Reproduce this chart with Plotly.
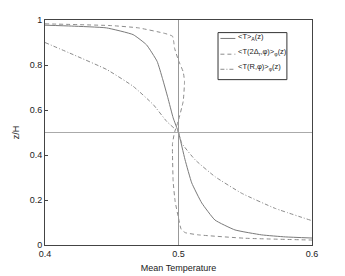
import plotly.graph_objects as go

# <T>_A(z)
ta_x = [0.400, 0.420, 0.446, 0.466, 0.476, 0.484, 0.488, 0.492, 0.496, 0.500,
        0.5049, 0.5099, 0.5174, 0.5273, 0.5423, 0.5623, 0.580, 0.600]
ta_z = [0.977, 0.973, 0.965, 0.935, 0.890, 0.816, 0.740, 0.655, 0.565, 0.500,
        0.379, 0.276, 0.187, 0.111, 0.067, 0.045, 0.036, 0.031]

# <T(2Δr,φ)>_φ(z)
td_x = [0.400, 0.450, 0.470, 0.490, 0.4955, 0.4965, 0.497, 0.500, 0.5035, 0.5045,
        0.5035, 0.4997, 0.497, 0.4955, 0.4955, 0.496, 0.4975, 0.500, 0.502,
        0.505, 0.515, 0.550, 0.600]
td_z = [0.983, 0.975, 0.965, 0.940, 0.928, 0.900, 0.876, 0.820, 0.770, 0.727,
        0.638, 0.549, 0.500, 0.450, 0.400, 0.282, 0.193, 0.120, 0.070,
        0.055, 0.045, 0.030, 0.022]

# <T(R,φ)>_φ(z)
tr_x = [0.400, 0.4212, 0.4462, 0.4661, 0.4811, 0.4912, 0.500,
        0.5024, 0.5124, 0.5273, 0.5473, 0.5723, 0.600]
tr_z = [0.900, 0.846, 0.780, 0.705, 0.624, 0.549, 0.500,
        0.453, 0.379, 0.304, 0.230, 0.163, 0.108]

x_ticks = [0.4, 0.5, 0.6]
y_ticks = [0, 0.2, 0.4, 0.6, 0.8, 1]

names = ["&lt;T&gt;<sub>A</sub>(z)",
         "&lt;T(2Δ<sub>r</sub>,φ)&gt;<sub>φ</sub>(z)",
         "&lt;T(R,φ)&gt;<sub>φ</sub>(z)"]
styles = [dict(color="#7a7a7a", width=1),
          dict(color="#8c8c8c", width=1, dash="4px,3px"),
          dict(color="#8c8c8c", width=1, dash="4px,2px,1px,2px")]
series = [(ta_x, ta_z), (td_x, td_z), (tr_x, tr_z)]

fig = go.Figure()
fig.add_hline(y=0.5, line=dict(color="#aaaaaa", width=1))
fig.add_vline(x=0.5, line=dict(color="#999999", width=1))
for (sx, sz), nm, st in zip(series, names, styles):
    fig.add_trace(go.Scatter(x=sx, y=sz, mode="lines", name=nm, showlegend=False,
                             line=dict(**st, shape="spline", smoothing=0.4)))

# legend box drawn in paper coordinates
lx0, lx1, ly0, ly1 = 0.648, 0.906, 0.735, 0.944
fig.add_shape(type="rect", xref="paper", yref="paper", x0=lx0, x1=lx1, y0=ly0, y1=ly1,
              line=dict(color="#333333", width=1), fillcolor="white", layer="above")
row_y = [0.918, 0.848, 0.781]
for yy, nm, st in zip(row_y, names, styles):
    fig.add_shape(type="line", xref="paper", yref="paper", x0=0.657, x1=0.713, y0=yy, y1=yy,
                  line=st, layer="above")
    fig.add_annotation(xref="paper", yref="paper", x=0.717, y=yy + 0.008, text=nm,
                       showarrow=False, xanchor="left", yanchor="middle",
                       font=dict(size=7.5, color="#222222"))

axis_common = dict(showline=True, linecolor="#444444", linewidth=1, mirror=True,
                   ticks="inside", ticklen=3, tickcolor="#444444", showgrid=False,
                   zeroline=False, automargin=False, tickfont=dict(size=9, color="#222222"))
fig.update_xaxes(range=[0.4, 0.6], tickvals=x_ticks, ticktext=["0.4", "0.5", "0.6"],
                 title=dict(text="Mean Temperature", font=dict(size=9, color="#222222"), standoff=6),
                 **axis_common)
fig.update_yaxes(range=[0, 1], tickvals=y_ticks, ticktext=["0", "0.2", "0.4", "0.6", "0.8", "1"],
                 title=dict(text="z/H", font=dict(size=9, color="#222222"), standoff=8),
                 **axis_common)

fig.update_layout(
    width=345, height=276,
    margin=dict(l=45, r=33, t=20, b=31, autoexpand=False),
    paper_bgcolor="white", plot_bgcolor="white",
    font=dict(family="Liberation Sans, Arial, sans-serif", size=9, color="#222222"),
    showlegend=False,
)

fig.write_html("out.html", config={"displayModeBar": False},
               post_script="document.body.style.margin='0';document.body.style.overflow='hidden';")
